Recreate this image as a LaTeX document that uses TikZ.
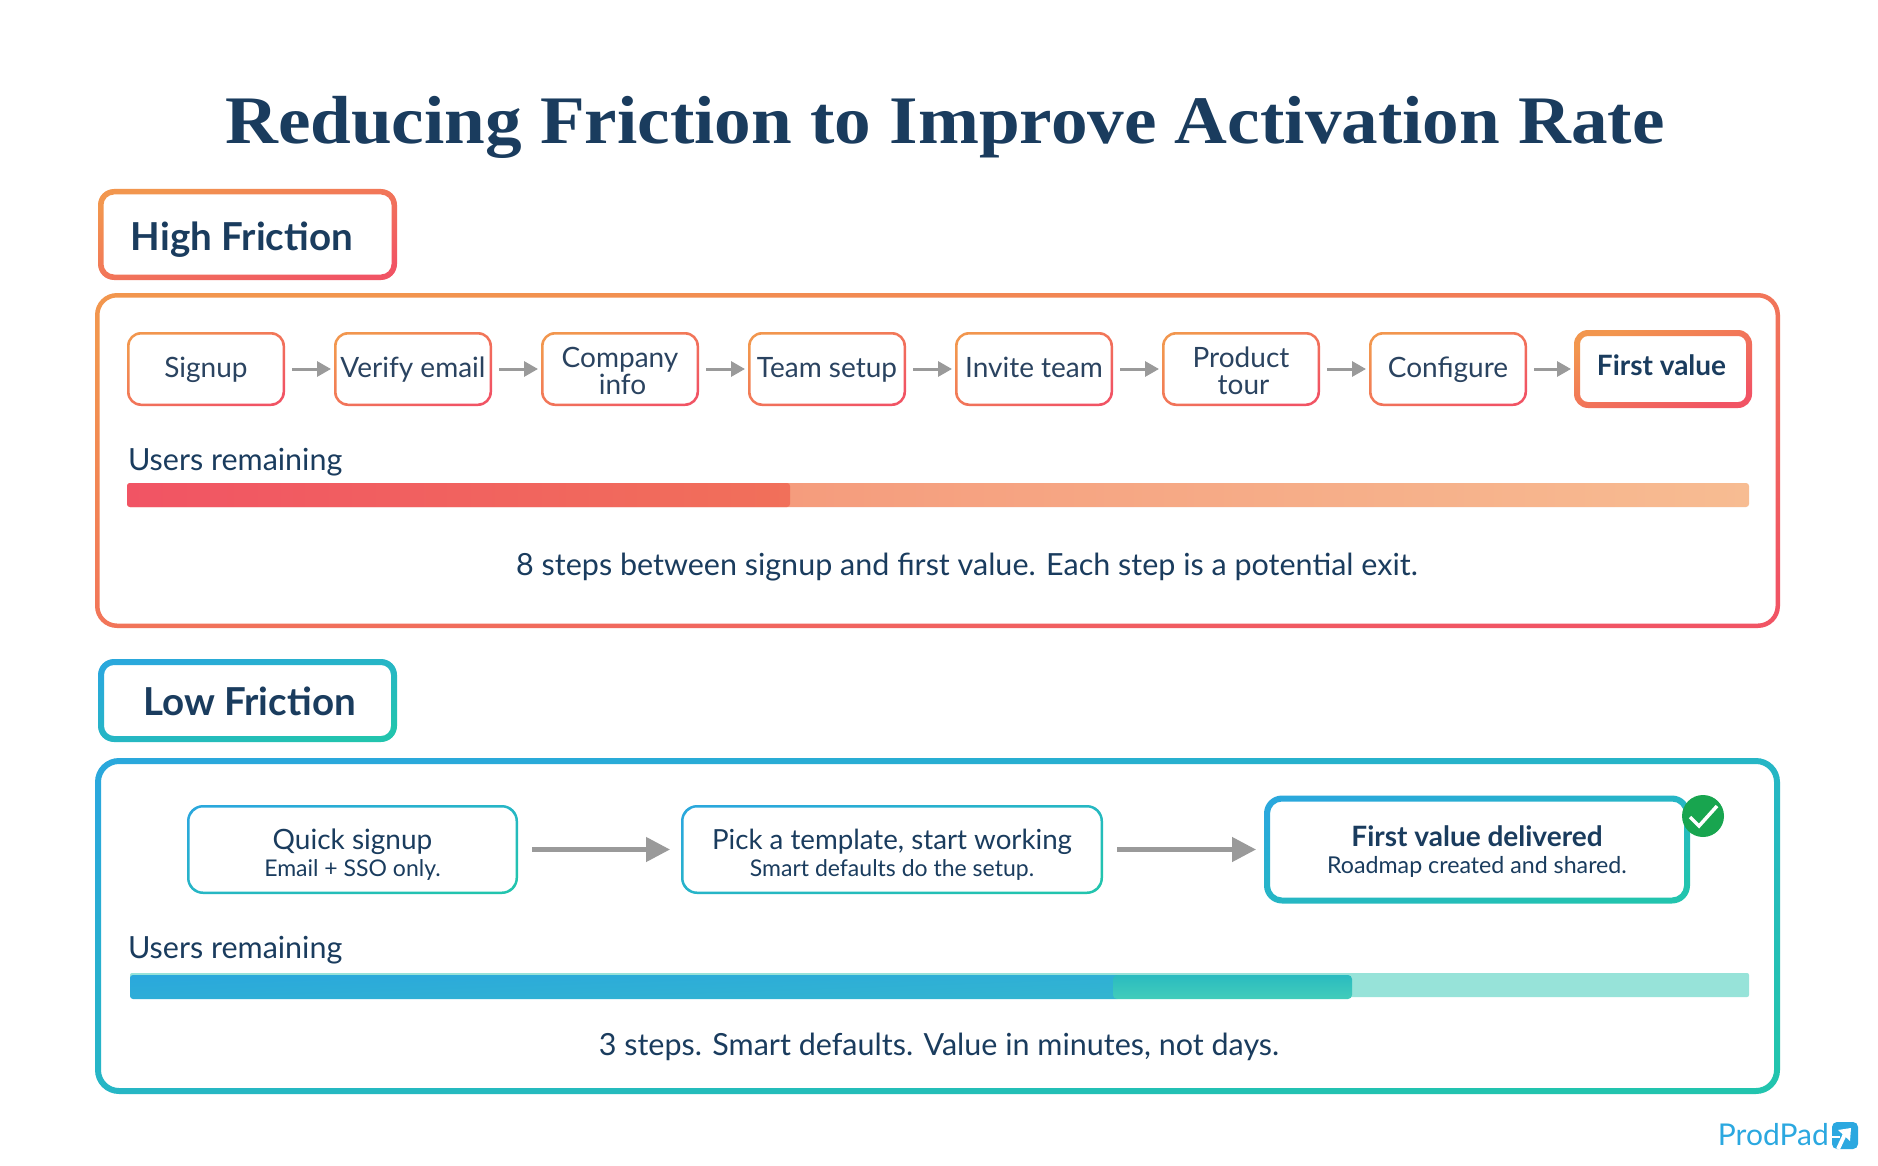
\documentclass[tikz,border=0pt]{standalone}
\usepackage{fontspec}
\setmainfont{Lato}
\newfontfamily\titlefont[FakeStretch=1.076]{Liberation Serif}
\usepackage{tikz}
\usetikzlibrary{
  arrows.meta, % for the arrow tips between the steps
  positioning % for relative positioning of the steps
}
\definecolor{navy}{HTML}{1A3C5E}
\definecolor{slate}{HTML}{2A4360}
\definecolor{hotA}{HTML}{F2964E}
\definecolor{hotB}{HTML}{F15464}
\definecolor{coolA}{HTML}{2AA8DC}
\definecolor{coolB}{HTML}{22C4AE}
\definecolor{arrowgray}{HTML}{9A9A9A}
\definecolor{okgreen}{HTML}{18A54F}
\definecolor{logoblue}{HTML}{2BA8E0}
\definecolor{barhot}{HTML}{F1705A}
\definecolor{palehotA}{HTML}{F4866E}
\definecolor{palehotB}{HTML}{F7BC92}
\definecolor{barcoolA}{HTML}{2ABBC0}
\definecolor{barcoolB}{HTML}{42CDBA}
\definecolor{palecool}{HTML}{97E3D9}
\tikzset{
  stepbox/.style={ % small step of the long flow
    rectangle,inner sep=0pt,outer sep=0pt,
    minimum width=158pt,minimum height=74pt,
    align=center,text=slate,font=\fontsize{28}{27}\selectfont,
  },
  oneline/.style={ % keeps one-line steps on the same baseline
    stepbox,text height=22pt,text depth=6pt,
  },
  wide/.style={ % step of the short flow
    stepbox,minimum height=89pt,text=navy,
  },
  panel/.style={ % big frame of a flow
    rectangle,inner sep=0pt,outer sep=0pt,
  },
  tag/.style={ % title tab over a panel
    rectangle,inner sep=0pt,outer sep=0pt,text=navy,
    font=\fontsize{38.5}{40}\selectfont\bfseries,
  },
  plain/.style={ % loose line of text
    inner sep=0pt,outer sep=0pt,text=navy,
    font=\fontsize{30.5}{32}\selectfont,
  },
  conn/.style={ % small arrow
    -{Triangle[length=14pt,width=15pt]},line width=3pt,draw=arrowgray,
  },
  bigconn/.style={ % big arrow
    -{Triangle[length=24pt,width=24pt]},line width=4.5pt,draw=arrowgray,
  },
}
% gradient ring on a node: name, from, to, line width, radius, angle
\newcommand{\gradframe}[6]{
  \shade[even odd rule,top color=#2,bottom color=#3,shading angle=#6]
    [rounded corners=#5] (#1.north west) rectangle (#1.south east)
    [rounded corners=#5-#4]
    ([xshift=#4,yshift=-#4]#1.north west) rectangle ([xshift=-#4,yshift=#4]#1.south east);
}
\begin{document}
\begin{tikzpicture}[x=1pt,y=-1pt]
\useasboundingbox (0,0) rectangle (1878,1166);
\fill[white] (0,0) rectangle (1878,1166);
\node[anchor=base,text=navy,font=\fontsize{68}{70}\selectfont\titlefont\bfseries] (title) at (945,144) {Reducing Friction to Improve Activation Rate};
%
% high friction
\node[tag, minimum width=299pt, minimum height=91pt, text height=39pt, text depth=6pt] (hightag) at (247.5,234.5) {High Friction\hspace*{11pt}};
\node[panel, minimum width=1685pt, minimum height=335pt] (highpanel) at (937.5,460.5) {};
\node[oneline] (s1) at (206,369) {Signup};
\node[oneline, right=49pt of s1] (s2) {Verify email};
\node[stepbox, right=49pt of s2] (s3) {\rule{0pt}{24pt}Company\\\hspace*{5pt}info};
\node[oneline, right=49pt of s3] (s4) {Team setup};
\node[oneline, right=49pt of s4] (s5) {Invite team};
\node[stepbox, right=49pt of s5] (s6) {\rule{0pt}{24pt}Product\\\hspace*{5pt}tour};
\node[oneline, right=49pt of s6] (s7) {Configure};
\node[stepbox, minimum width=178pt, minimum height=78pt, text=navy, text height=22pt, text depth=10pt, font=\fontsize{28}{27}\selectfont\bfseries, right=47pt of s7] (s8) {First value\hspace*{3pt}};
\foreach \n in {s1,s2,s3,s4,s5,s6,s7} {\gradframe{\n}{hotA}{hotB}{2.5pt}{14pt}{25}}
\gradframe{s8}{hotA}{hotB}{6pt}{14pt}{24}
\gradframe{hightag}{hotA}{hotB}{5.5pt}{16pt}{17}
\gradframe{highpanel}{hotA}{hotB}{4.5pt}{22pt}{11}
\foreach \a/\b in {s1/s2,s2/s3,s3/s4,s4/s5,s5/s6,s6/s7,s7/s8} {\draw[conn,shorten <=7pt,shorten >=3pt] (\a) -- (\b);}
\node[plain,anchor=base west] (highusers) at (128,470) {Users remaining};
\shade[left color=palehotA,right color=palehotB,rounded corners=3pt] (127,483) rectangle (1749,507);
\shade[left color=hotB,right color=barhot,rounded corners=3pt] (127,483) rectangle (790,507);
\node[plain,anchor=base] (highnote) at (967,575) {8 steps between signup and first value. Each step is a potential exit.};
%
% low friction
\node[tag, minimum width=299pt, minimum height=83pt, text height=35pt, text depth=6pt] (lowtag) at (247.5,700.5) {\hspace*{4pt}Low Friction};
\node[panel, minimum width=1685pt, minimum height=336pt] (lowpanel) at (937.5,926) {};
\node[wide, minimum width=331pt] (q1) at (352.5,849.5) {\rule{0pt}{30pt}Quick signup\\{\fontsize{23}{26}\selectfont Email + SSO only.}};
\node[wide, minimum width=422pt, right=163pt of q1] (q2) {\rule{0pt}{30pt}{\fontsize{27.7}{27}\selectfont Pick a template, start working}\\{\fontsize{23}{26}\selectfont Smart defaults do the setup.}};
\node[wide, minimum width=426pt, minimum height=108pt, right=161pt of q2, font=\fontsize{28}{27}\selectfont\bfseries] (q3) {\rule{0pt}{24pt}First value delivered\\{\mdseries\fontsize{23.2}{26}\selectfont Roadmap created and shared.}};
\foreach \n in {q1,q2} {\gradframe{\n}{coolA}{coolB}{2.5pt}{16pt}{15}}
\gradframe{q3}{coolA}{coolB}{6pt}{18pt}{14}
\gradframe{lowtag}{coolA}{coolB}{6pt}{16pt}{15}
\gradframe{lowpanel}{coolA}{coolB}{6pt}{24pt}{11}
\draw[bigconn,shorten <=14pt,shorten >=11pt] (q1) -- (q2);
\draw[bigconn,shorten <=14pt,shorten >=8pt] (q2) -- (q3);
\node[circle,fill=okgreen,inner sep=0pt,minimum size=42pt] (okmark) at (1703,816) {};
\draw[white,line width=3.5pt] ([shift={(-13,1)}]okmark.center) -- ([shift={(-4,10)}]okmark.center) -- ([shift={(14,-10)}]okmark.center);
\node[plain,anchor=base west] (lowusers) at (128,958) {Users remaining};
\fill[rounded corners=2pt,fill=palecool] (130,973) rectangle (1749,997);
\shade[top color=coolA,bottom color=coolA!65!barcoolB,shading angle=2,rounded corners=3pt] (130,975) rectangle (1120,999);
\shade[top color=barcoolA,bottom color=barcoolB,rounded corners=4pt] (1113,975) rectangle (1352,999);
\node[plain,anchor=base] (lownote) at (939,1055) {3 steps. Smart defaults. Value in minutes, not days.};
%
% logo
\node[anchor=base east,inner sep=0pt,text=logoblue,font=\fontsize{30}{32}\selectfont] (logo) at (1829,1145) {ProdPad};
\fill[logoblue,rounded corners=5pt] (1832,1122) rectangle (1858,1149);
\fill[white] (1838,1130) -- (1851,1128) -- (1850,1141) -- cycle;
\draw[white,line width=4pt] (1845,1134) -- (1838,1149);
\draw[white,line width=2.5pt] (1832,1137) -- (1840,1137);
\end{tikzpicture}
\end{document}
